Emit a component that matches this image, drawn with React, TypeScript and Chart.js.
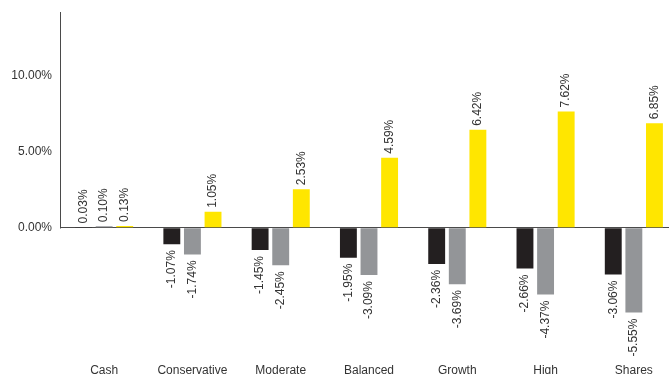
import React, { useEffect, useRef } from "react";
import { Chart, registerables } from "chart.js";

Chart.register(...registerables);

const categories = ["Cash", "Conservative", "Moderate", "Balanced", "Growth", "High", "Shares"];
const seriesBlack = [0.03, -1.07, -1.45, -1.95, -2.36, -2.66, -3.06];
const seriesGray = [0.1, -1.74, -2.45, -3.09, -3.69, -4.37, -5.55];
const seriesYellow = [0.13, 1.05, 2.53, 4.59, 6.42, 7.62, 6.85];
const yTicks = [0, 5, 10];
const yAxisTop = 14.15;

const FONT = "'Liberation Sans', Arial, sans-serif";
const TEXT = "#333333";
const AXIS = "#4a4a4a";

const labelPlugin = {
  id: "barLabels",
  afterDatasetsDraw(chart: any) {
    const ctx = chart.ctx;
    ctx.save();
    ctx.font = `12px ${FONT}`;
    ctx.fillStyle = TEXT;
    ctx.textBaseline = "middle";
    chart.data.datasets.forEach((ds: any, di: number) => {
      const meta = chart.getDatasetMeta(di);
      meta.data.forEach((bar: any, i: number) => {
        const v = ds.data[i];
        const txt = v.toFixed(2) + "%";
        ctx.save();
        if (v >= 0) {
          ctx.translate(bar.x, bar.y - 4);
          ctx.rotate(-Math.PI / 2);
          ctx.textAlign = "left";
        } else {
          ctx.translate(bar.x, bar.y + 6);
          ctx.rotate(-Math.PI / 2);
          ctx.textAlign = "right";
        }
        ctx.fillText(txt, 0, 0);
        ctx.restore();
      });
    });
    ctx.restore();
  },
};

const axisPlugin = {
  id: "halfAxis",
  afterDraw(chart: any) {
    const { ctx, chartArea, scales } = chart;
    const y0 = scales.y.getPixelForValue(0);
    const yt = scales.y.getPixelForValue(yAxisTop);
    ctx.save();
    ctx.strokeStyle = AXIS;
    ctx.lineWidth = 1;
    ctx.beginPath();
    ctx.moveTo(chartArea.left + 0.5, Math.round(yt));
    ctx.lineTo(chartArea.left + 0.5, Math.round(y0) + 0.5);
    ctx.stroke();
    ctx.restore();
  },
};

export default function App() {
  const ref = useRef<HTMLCanvasElement | null>(null);

  useEffect(() => {
    document.body.style.margin = "0";
    document.body.style.overflow = "hidden";
    const chart = new Chart(ref.current as HTMLCanvasElement, {
      type: "bar",
      data: {
        labels: categories,
        datasets: [
          { data: seriesBlack, backgroundColor: "#231f20" },
          { data: seriesGray, backgroundColor: "#939598" },
          { data: seriesYellow, backgroundColor: "#ffe600" },
        ],
      },
      options: {
        animation: false,
        responsive: false,
        layout: { padding: { top: 7.6, right: 0, left: 0, bottom: -16.4 } },
        plugins: {
          legend: { display: false },
          tooltip: { enabled: false },
        },
        datasets: {
          bar: { barPercentage: 0.82, categoryPercentage: 0.7 },
        },
        scales: {
          x: {
            grid: { display: false, drawTicks: false },
            border: { display: false },
            ticks: {
              color: TEXT,
              font: { family: FONT, size: 12 },
              padding: 13,
              maxRotation: 0,
              autoSkip: false,
            },
          },
          y: {
            min: -8,
            max: 13.93,
            afterBuildTicks: (s: any) => {
              s.ticks = yTicks.map((v) => ({ value: v }));
            },
            afterFit: (s: any) => {
              s.width = 60;
            },
            grid: {
              drawTicks: false,
              lineWidth: 1,
              color: (c: any) => (c.tick && c.tick.value === 0 ? AXIS : "rgba(0,0,0,0)"),
            },
            border: { display: false },
            ticks: {
              color: TEXT,
              font: { family: FONT, size: 12 },
              padding: 8,
              callback: (v: any) => Number(v).toFixed(2) + "%",
            },
          },
        },
      },
      plugins: [labelPlugin, axisPlugin],
    });
    return () => chart.destroy();
  }, []);

  return (
    <div style={{ width: 669, height: 374, overflow: "hidden" }}>
      <canvas ref={ref} width={678} height={374} style={{ width: 678, height: 374, display: "block" }} />
    </div>
  );
}
